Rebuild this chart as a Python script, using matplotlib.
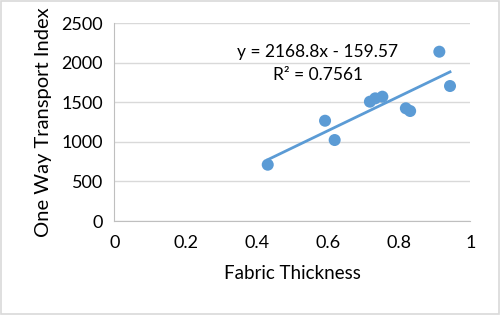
import numpy as np
import matplotlib.pyplot as plt
from matplotlib.patches import Rectangle

# data
thickness = [0.431, 0.592, 0.619, 0.718, 0.733, 0.753, 0.819, 0.831, 0.913, 0.943]
transport = [712, 1268, 1024, 1509, 1551, 1572, 1425, 1391, 2141, 1707]
slope = 2168.8
intercept = -159.57
eq_text = "y = 2168.8x - 159.57"
r2_text = "R² = 0.7561"
x_ticks = [0, 0.2, 0.4, 0.6, 0.8, 1]
x_labels = ["0", "0.2", "0.4", "0.6", "0.8", "1"]
y_ticks = [0, 500, 1000, 1500, 2000, 2500]

blue = "#5B9BD5"
plt.rcParams['font.family'] = ['Lato', 'DejaVu Sans']

fig = plt.figure(figsize=(5, 3.15), dpi=100)
ax = fig.add_axes([0.2286, 0.2984, 0.712, 0.6276])

# fig border
fig.patches.append(Rectangle((0.002, 0.003), 0.996, 0.994, transform=fig.transFigure,
                             fill=False, edgecolor="#d9d9d9", lw=1.2))

ax.scatter(thickness, transport, s=75, color=blue, zorder=3, edgecolors="none")

# linear trendline over the data range
xl = np.array([min(thickness), max(thickness)])
ax.plot(xl, slope * xl + intercept, color=blue, lw=2, zorder=2)

ax.set_xlim(0, 1)
ax.set_ylim(0, 2500)
ax.set_xticks(x_ticks)
ax.set_xticklabels(x_labels)
ax.set_yticks(y_ticks)
ax.tick_params(length=0, labelsize=13, pad=8)
ax.tick_params(axis='x', pad=10)
ax.grid(axis='y', color="#d9d9d9", lw=1)
ax.set_axisbelow(True)
for s in ["top", "right"]:
    ax.spines[s].set_visible(False)
for s in ["left", "bottom"]:
    ax.spines[s].set_color("#bfbfbf")

ax.set_xlabel("Fabric Thickness", fontsize=13.5, labelpad=10)
ax.set_ylabel("One Way Transport Index", fontsize=14.5, labelpad=7)

ax.text(0.571, 0.855, eq_text, transform=ax.transAxes, fontsize=12.5, ha="center", va="center")
ax.text(0.571, 0.74, r2_text, transform=ax.transAxes, fontsize=12.5, ha="center", va="center")

fig.savefig("out.png", dpi=100)
